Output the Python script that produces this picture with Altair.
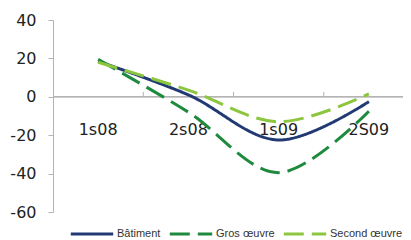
import altair as alt
import pandas as pd

categories = ["1s08", "2s08", "1s09", "2S09"]
positions = [0.5, 1.5, 2.5, 3.5]
batiment = [18.5, 1.0, -22.5, -2.5]
gros_oeuvre = [19.5, -8.0, -39.5, -7.5]
second_oeuvre = [18.0, 3.5, -13.0, 1.5]
series_names = ["Bâtiment", "Gros œuvre", "Second œuvre"]
series_colors = ["#213a74", "#1e8a3e", "#8cc63f"]
boundaries = [1, 2, 3]
y_ticks = [40, 20, 0, -20, -40, -60]

rows = []
for name, vals in zip(series_names, [batiment, gros_oeuvre, second_oeuvre]):
    for p, c, v in zip(positions, categories, vals):
        rows.append({"serie": name, "pos": p, "cat": c, "val": v})
df = pd.DataFrame(rows)
cat_df = pd.DataFrame({"pos": positions, "cat": categories})
tick_df = pd.DataFrame({"b": boundaries})

W, H = 350, 192
xs = alt.Scale(domain=[0, W / 90.25], nice=False, zero=False)
ys = alt.Scale(domain=[-60, 40], nice=False)
yaxis = alt.Axis(
    values=y_ticks,
    title=None,
    grid=False,
    domainColor="#b3b3b3",
    tickColor="#b3b3b3",
    tickSize=5,
    labelFont="DejaVu Sans",
    labelFontSize=16,
    labelColor="#222222",
    labelPadding=12,
    labelOverlap=False,
    labelExpr="'' + datum.value",
)

lines = alt.Chart(df).mark_line(strokeWidth=3, interpolate="catmull-rom").encode(
    x=alt.X("pos:Q", scale=xs, axis=None),
    y=alt.Y("val:Q", scale=ys, axis=yaxis),
    color=alt.Color(
        "serie:N",
        scale=alt.Scale(domain=series_names, range=series_colors),
        legend=alt.Legend(
            title=None,
            orient="none",
            direction="horizontal",
            legendX=16,
            legendY=191,
            symbolType="stroke",
            symbolSize=1800,
            symbolStrokeWidth=3,
            labelFont="Liberation Sans",
            labelFontSize=11,
            labelColor="#333333",
            labelOffset=2,
            columnPadding=2,
            padding=0,
        ),
    ),
    strokeDash=alt.StrokeDash(
        "serie:N",
        scale=alt.Scale(domain=series_names, range=[[1, 0], [20, 8], [20, 8]]),
        legend=None,
    ),
)
zero = alt.Chart(tick_df).mark_rule(color="#b3b3b3", strokeWidth=1).encode(
    x=alt.value(0), x2=alt.value(W), y=alt.Y(datum=0, scale=ys, axis=yaxis)
)
ticks = alt.Chart(tick_df).mark_rule(color="#b3b3b3", strokeWidth=1).encode(
    x=alt.X("b:Q", scale=xs, axis=None),
    y=alt.Y(datum=0, scale=ys, axis=yaxis),
    y2=alt.datum(2.6),
)
labels = alt.Chart(cat_df).mark_text(
    font="DejaVu Sans", fontSize=16, color="#222222", baseline="middle"
).encode(
    x=alt.X("pos:Q", scale=xs, axis=None),
    y=alt.Y(datum=-17.5, scale=ys, axis=yaxis),
    text="cat:N",
)

chart = alt.layer(zero, ticks, labels, lines).properties(
    width=W,
    height=H,
    autosize=alt.AutoSizeParams(type="none"),
    padding={"left": 45, "top": 12, "right": 0, "bottom": 28},
).configure_view(stroke=None)

chart.save("out.html", embed_options={"renderer": "svg", "actions": False})
